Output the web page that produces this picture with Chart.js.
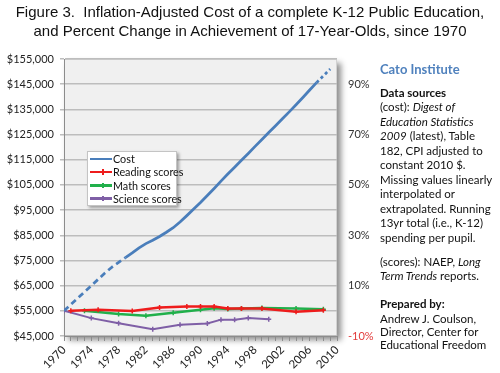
<!DOCTYPE html>
<html><head><meta charset="utf-8">
<script src="https://cdn.jsdelivr.net/npm/chart.js@4/dist/chart.umd.min.js"></script>
<style>
html,body{margin:0;padding:0;background:#fff;}
#wrap{position:relative;width:500px;height:373px;overflow:hidden;background:#fff;}
#c{position:absolute;left:0;top:0;}
#title{position:absolute;left:0;top:2px;width:500px;text-align:center;font-family:"Liberation Sans",Arial,sans-serif;font-size:15px;line-height:19px;color:#111;white-space:pre;}
#legend{position:absolute;left:87px;top:151px;width:90px;height:55px;background:#fff;border:1px solid #c4c4c4;box-shadow:2px 2px 3px rgba(0,0,0,0.35);font-family:Lato,sans-serif;font-size:10.8px;color:#111;box-sizing:border-box;padding-top:0px;}
#legend .row{height:13.3px;line-height:13.3px;white-space:nowrap;position:relative;}
#legend .sw{position:absolute;left:2px;top:5.5px;width:22px;height:2.5px;}
#legend .mk{position:absolute;left:12px;top:-1.5px;width:1.5px;height:5.5px;}
#legend .tx{position:absolute;left:25px;top:0;}
.side{position:absolute;left:380px;font-family:Lato,sans-serif;font-size:11.5px;color:#111;white-space:nowrap;}
</style></head>
<body><div id="wrap">
<canvas id="c" width="500" height="373"></canvas>
<div id="title">Figure 3.  Inflation-Adjusted Cost of a complete K-12 Public Education,
and Percent Change in Achievement of 17-Year-Olds, since 1970</div>
<div id="legend"></div>
<div class="side" style="top:61px;font-size:13px;font-weight:bold;color:#4f81bd;line-height:16px;">Cato Institute</div>
<div class="side" style="top:85.8px;line-height:14.5px;">
<div><b>Data sources</b></div>
<div>(cost): <i>Digest of</i></div>
<div><i>Education Statistics</i></div>
<div><i>2009</i> (latest), Table</div>
<div>182, CPI adjusted to</div>
<div>constant 2010 $.</div>
<div>Missing values linearly</div>
<div>interpolated or</div>
<div>extrapolated. Running</div>
<div>13yr total (i.e., K-12)</div>
<div>spending per pupil.</div>
</div>
<div class="side" style="top:255px;line-height:14px;">
<div>(scores): NAEP, <i>Long</i></div>
<div><i>Term Trends</i> reports.</div>
</div>
<div class="side" style="top:295.5px;line-height:15px;"><b>Prepared by:</b></div>
<div class="side" style="top:311.5px;line-height:13px;">
<div>Andrew J. Coulson,</div>
<div>Director, Center for</div>
<div>Educational Freedom</div>
</div>
</div>
<script>
// ---- data ----
const costYears = [1970,1971,1972,1973,1974,1975,1976,1977,1978,1979,1980,1981,1982,1983,1984,1985,1986,1987,1988,1989,1990,1991,1992,1993,1994,1995,1996,1997,1998,1999,2000,2001,2002,2003,2004,2005,2006,2007,2008,2009];
const costValues = [55000,57500,60000,62500,65000,67500,70000,72300,74200,76100,78000,80000,81700,83000,84500,86200,88000,90300,92800,95400,98000,100800,103600,106500,109300,112000,114800,117500,120300,123000,125800,128500,131300,134000,136800,139700,142700,145600,148300,151000];
const readingYears = [1971,1975,1980,1984,1988,1990,1992,1994,1996,1999,2004,2008];
const readingPct = [0,0.4,-0.1,1.3,1.7,1.7,1.7,0.9,0.9,0.9,-0.4,0.2];
const mathYears = [1973,1978,1982,1986,1990,1992,1994,1996,1999,2004,2008];
const mathPct = [0,-1.3,-2.0,-0.8,0.4,1.0,0.7,0.9,1.1,0.9,0.6];
const scienceYears = [1970,1974,1978,1983,1987,1991,1993,1995,1997,2000];
const sciencePct = [0,-2.9,-4.9,-7.3,-5.5,-5.0,-3.5,-3.5,-2.9,-3.3];
const xTickLabels = ['1970','1974','1978','1982','1986','1990','1994','1998','2002','2006','2010'];
const rightTickValues = [-10,10,30,50,70,90];
const rightTickLabels = ['-10%','10%','30%','50%','70%','90%'];
const seriesNames = ['Cost','Reading scores','Math scores','Science scores'];
// ---- styles ----
const colors = ['#4a7ebb','#ee1c1c','#21b04b','#7f5fa6'];
const pts = (xs, ys) => xs.map((x,i)=>({x:x,y:ys[i]}));

const plotBackdrop = {
  id:'plotBackdrop',
  beforeDraw(chart){
    const {ctx, chartArea:a} = chart;
    ctx.save();
    ctx.shadowColor='rgba(0,0,0,0.45)';ctx.shadowBlur=6;ctx.shadowOffsetX=4;ctx.shadowOffsetY=4;
    ctx.fillStyle='#f0f0f0';
    ctx.fillRect(a.left,a.top,a.right-a.left,a.bottom-a.top);
    ctx.restore();
    ctx.save();
    ctx.strokeStyle='#d2d2d2';ctx.lineWidth=1;
    ctx.strokeRect(a.left+0.5,a.top+0.5,a.right-a.left-1,a.bottom-a.top-1);
    ctx.restore();
  }
};

const chart = new Chart(document.getElementById('c'), {
  type:'line',
  data:{datasets:[
    {label:seriesNames[0],data:pts(costYears,costValues),yAxisID:'y',borderColor:colors[0],backgroundColor:colors[0],borderWidth:2.75,pointRadius:0,tension:0,
     segment:{borderDash: ctx => (ctx.p1.parsed.x <= 1979 ? [6,4] : (ctx.p0.parsed.x >= 2007 ? [3,3] : undefined))}},
    {label:seriesNames[1],data:pts(readingYears,readingPct),yAxisID:'y2',borderColor:colors[1],backgroundColor:colors[1],borderWidth:2.5,pointStyle:'cross',pointRadius:2.5,pointBorderWidth:1.5,tension:0},
    {label:seriesNames[2],data:pts(mathYears,mathPct),yAxisID:'y2',borderColor:colors[2],backgroundColor:colors[2],borderWidth:2.5,pointStyle:'cross',pointRadius:2.5,pointBorderWidth:1.5,tension:0},
    {label:seriesNames[3],data:pts(scienceYears,sciencePct),yAxisID:'y2',borderColor:colors[3],backgroundColor:colors[3],borderWidth:2,pointStyle:'cross',pointRadius:2.5,pointBorderWidth:1.5,tension:0}
  ]},
  options:{
    responsive:false,animation:false,
    layout:{padding:{top:59,left:0,right:0,bottom:0}},
    plugins:{legend:{display:false},tooltip:{enabled:false},title:{display:false}},
    scales:{
      x:{type:'linear',min:1970,max:2010,
         ticks:{stepSize:1,autoSkip:false,maxTicksLimit:100,minRotation:45,maxRotation:45,padding:2,
                font:{family:'Lato',size:11.5},color:'#222',
                callback:v=>{const s=String(v);return xTickLabels.includes(s)?s:'';}},
         grid:{drawOnChartArea:false,drawTicks:true,tickLength:5,color:'#8c8c8c',lineWidth:1},
         border:{color:'#8c8c8c',width:1},
         afterFit:s=>{s.height=37;}},
      y:{position:'left',min:45000,max:155000,
         ticks:{stepSize:10000,padding:6,font:{family:'Lato',size:11},color:'#222',
                callback:v=>'$'+Number(v).toLocaleString('en-US')},
         grid:{color:'#bdbdbd',lineWidth:1.5,tickLength:4},
         border:{color:'#8c8c8c',width:1},
         afterFit:s=>{s.width=64;}},
      y2:{position:'right',min:-10,max:100,
         afterBuildTicks:s=>{s.ticks=rightTickValues.map(v=>({value:v}));},
         ticks:{padding:3,font:{family:'Lato',size:11},
                color:c=> (c.tick && c.tick.value<0) ? '#e23b3b' : '#333',
                callback:v=>{const i=rightTickValues.indexOf(v);return i>=0?rightTickLabels[i]:'';}},
         grid:{display:false,drawTicks:true,tickLength:8},
         border:{display:false},
         afterFit:s=>{s.width=163;}}
    }
  },
  plugins:[plotBackdrop]
});

// HTML legend built from the chart's datasets
const lg=document.getElementById('legend');
chart.data.datasets.forEach((d,i)=>{
  const r=document.createElement('div');r.className='row';
  const sw=document.createElement('span');sw.className='sw';sw.style.background=d.borderColor;
  if(i>0){const m=document.createElement('span');m.className='mk';m.style.background=d.borderColor;sw.appendChild(m);}
  const t=document.createElement('span');t.className='tx';t.textContent=d.label;
  r.appendChild(sw);r.appendChild(t);lg.appendChild(r);
});
</script>
</body></html>
